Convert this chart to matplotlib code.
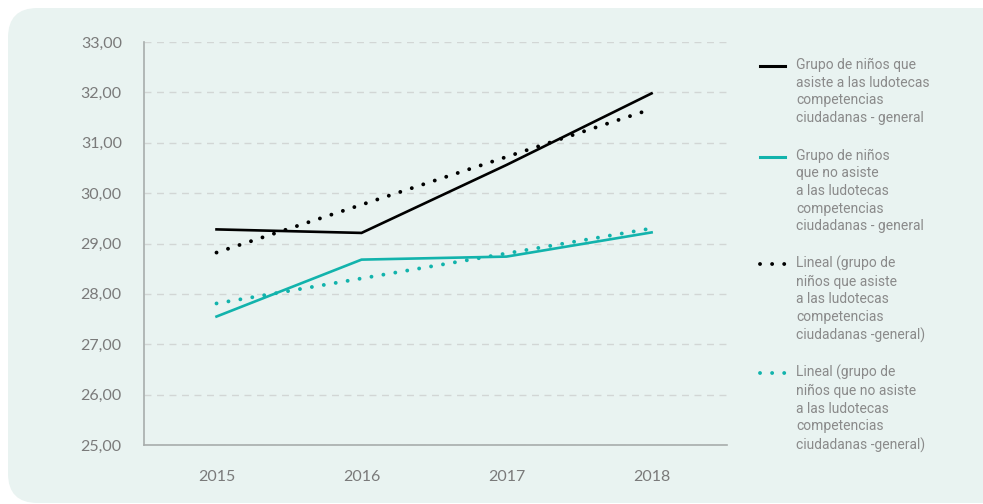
import matplotlib
matplotlib.use("Agg")
import matplotlib.pyplot as plt
from matplotlib.patches import FancyBboxPatch
from matplotlib.lines import Line2D

# ---- data ----
years = ["2015", "2016", "2017", "2018"]
asiste = [29.28, 29.21, 30.56, 31.98]
no_asiste = [27.55, 28.68, 28.74, 29.22]
# linear trend lines (start at 2015, end at 2018)
trend_asiste = [28.82, 31.67]
trend_no_asiste = [27.81, 29.30]
y_ticks = [25, 26, 27, 28, 29, 30, 31, 32, 33]
legend_labels = [
    "Grupo de niños que\nasiste a las ludotecas\ncompetencias\nciudadanas - general",
    "Grupo de niños\nque no asiste\na las ludotecas\ncompetencias\nciudadanas - general",
    "Lineal (grupo de\nniños que asiste\na las ludotecas\ncompetencias\nciudadanas -general)",
    "Lineal (grupo de\nniños que no asiste\na las ludotecas\ncompetencias\nciudadanas -general)",
]

BG = "#E9F3F1"
BLACK = "#000000"
TEAL = "#12B3AC"
GRAY_TXT = "#7a7a7a"

W, H = 983, 504
fig = plt.figure(figsize=(W / 100, H / 100), dpi=100)
fig.patch.set_facecolor("white")

# rounded card background
card = FancyBboxPatch((8 / W, 1 / H), (W - 8 + 30) / W, 495 / H,
                      boxstyle="round,pad=0,rounding_size=0.03",
                      transform=fig.transFigure, facecolor=BG, edgecolor="none",
                      mutation_aspect=W / H, zorder=0)
fig.add_artist(card)

ax = fig.add_axes([144 / W, (H - 445) / H, (727 - 144) / W, (445 - 42) / H])
ax.set_facecolor("none")

x = list(range(len(years)))
x_trend = [x[0], x[-1]]

ax.plot(x, asiste, color=BLACK, lw=1.9, solid_joinstyle="miter", zorder=3)
ax.plot(x, no_asiste, color=TEAL, lw=1.9, solid_joinstyle="miter", zorder=3)
dot_lw = 2.8
ax.plot(x_trend, trend_asiste, color=BLACK, lw=dot_lw,
        linestyle=(0, (0.01, 3.1)), dash_capstyle="round", zorder=4)
ax.plot(x_trend, trend_no_asiste, color=TEAL, lw=dot_lw,
        linestyle=(0, (0.01, 3.1)), dash_capstyle="round", zorder=4)

ax.set_xlim(-0.5, 3.52)
ax.set_ylim(25, 33)
ax.set_yticks(y_ticks)
ax.set_yticklabels([f"{v:.2f}".replace(".", ",") for v in y_ticks])
ax.set_xticks(x)
ax.set_xticklabels(years)

ax.grid(axis="y", color="#D2D6D5", linestyle=(0, (5, 4)), lw=1.0)
ax.set_axisbelow(True)
for s in ["top", "right"]:
    ax.spines[s].set_visible(False)
for s in ["left", "bottom"]:
    ax.spines[s].set_color("#A8ADAC")
    ax.spines[s].set_linewidth(1.2)
ax.tick_params(axis="both", length=0, colors=GRAY_TXT)
ax.tick_params(axis="y", pad=16)
ax.tick_params(axis="x", pad=18)
for lab in ax.get_yticklabels() + ax.get_xticklabels():
    lab.set_fontfamily("Lato")
    lab.set_fontsize(11.5)
    lab.set_color(GRAY_TXT)

# ---- legend (manual) ----
styles = [
    dict(color=BLACK, lw=2.2, linestyle="-"),
    dict(color=TEAL, lw=2.2, linestyle="-"),
    dict(color=BLACK, lw=dot_lw, linestyle=(0, (0.01, 3.1)), dash_capstyle="round"),
    dict(color=TEAL, lw=dot_lw, linestyle=(0, (0.01, 3.1)), dash_capstyle="round"),
]
entry_y = [66, 156.5, 263.5, 373]
for lab, st, yy in zip(legend_labels, styles, entry_y):
    yf = (H - yy) / H
    fig.add_artist(Line2D([760 / W, 785 / W], [yf, yf], transform=fig.transFigure, **st))
    fig.text(796 / W, (H - yy + 8) / H, lab, fontsize=10, family="Roboto",
             color="#8a8a8a", va="top", ha="left", linespacing=1.33)

fig.savefig("out.png", dpi=100, facecolor=fig.get_facecolor())
